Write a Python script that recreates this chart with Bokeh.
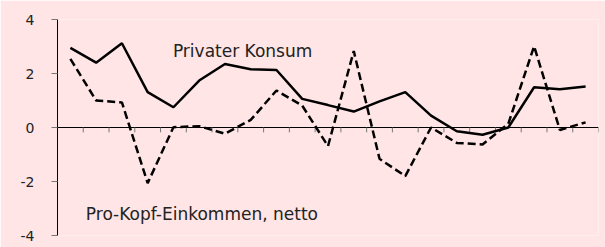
from bokeh.plotting import figure
from bokeh.models import FixedTicker, Range1d
from bokeh.core.properties import value
from bokeh.embed import file_html
from bokeh.resources import INLINE

# data
periods = list(range(21))
privater_konsum = [2.95, 2.40, 3.12, 1.31, 0.75, 1.74, 2.35, 2.16, 2.13, 1.06, 0.83,
                   0.59, 0.97, 1.31, 0.44, -0.14, -0.27, 0.0, 1.49, 1.42, 1.52]
pro_kopf_einkommen = [2.54, 1.0, 0.93, -2.06, 0.01, 0.05, -0.23, 0.28, 1.37, 0.81, -0.69,
                      2.83, -1.16, -1.80, 0.0, -0.57, -0.63, 0.14, 3.01, -0.09, 0.19]
y_ticks = [-4, -2, 0, 2, 4]
y_tick_labels = ["-4", "-2", "0", "2", "4"]
series_labels = ["Privater Konsum", "Pro-Kopf-Einkommen, netto"]

BG = "#FFE5E5"
FONT = "DejaVu Sans"

n = len(periods)
x = [p + 0.5 for p in periods]
boundaries = list(range(n + 1))

p = figure(width=605, height=247, output_backend="svg", toolbar_location=None,
           x_range=Range1d(0, n), y_range=Range1d(-4, 4),
           min_border_left=57, min_border_right=7, min_border_top=19, min_border_bottom=12,
           background_fill_color=BG, border_fill_color=BG, outline_line_color=None)
p.grid.visible = False
p.xaxis.visible = False

# y axis
ya = p.yaxis[0]
ya.ticker = FixedTicker(ticks=y_ticks)
ya.major_label_overrides = {t: s for t, s in zip(y_ticks, y_tick_labels)}
ya.minor_tick_line_color = None
ya.major_tick_in = 0
ya.major_tick_out = 6
ya.major_tick_line_color = "#777777"
ya.axis_line_color = "black"
ya.major_label_standoff = 17
ya.major_label_text_font = FONT
ya.major_label_text_font_size = "14px"
ya.major_label_text_color = "#222222"

# category axis along zero
p.line([boundaries[0], boundaries[-1]], [0, 0], line_color="black", line_width=1)
p.segment(x0=boundaries, y0=[0] * len(boundaries), x1=boundaries, y1=[-0.18] * len(boundaries),
          line_color="#777777", line_width=1)

p.line(x, privater_konsum, line_color="black", line_width=2.5)
p.line(x, pro_kopf_einkommen, line_color="black", line_width=2.5, line_dash="8 4")

p.text(x=[4.48], y=[2.83], text=[series_labels[0]], text_font=value(FONT),
       text_font_size="17px", text_color="#222222", text_baseline="alphabetic", text_align="left")
p.text(x=[1.10], y=[-3.20], text=[series_labels[1]], text_font=value(FONT),
       text_font_size="17px", text_color="#222222", text_baseline="alphabetic", text_align="left")

open("out.html", "w").write(file_html(p, INLINE))
